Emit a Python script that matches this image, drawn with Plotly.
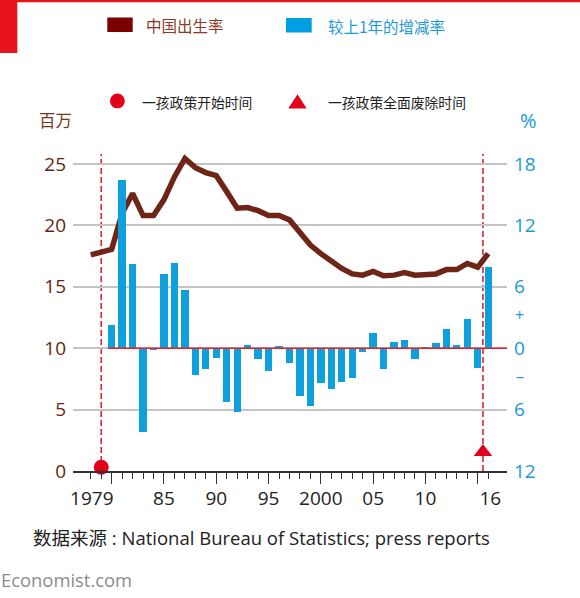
import plotly.graph_objects as go

# ---------------- data ----------------
years = list(range(1978, 2017))
births_m = [17.6, 17.8, 18.05, 21.0, 22.6, 20.8, 20.8, 22.1, 23.95, 25.45,
            24.7, 24.3, 24.05, 22.75, 21.4, 21.45, 21.2, 20.8, 20.8, 20.45,
            19.5, 18.4, 17.7, 17.05, 16.5, 16.05, 15.95, 16.25, 15.9, 15.95,
            16.15, 15.95, 15.95, 16.05, 16.4, 16.4, 16.9, 16.6, 17.7]

bar_years = list(range(1980, 2017))
change_pct = [2.3, 16.4, 8.2, -8.15, -0.1, 7.3, 8.3, 5.7, -2.6, -2.05,
              -1.0, -5.3, -6.25, 0.3, -1.1, -2.2, 0.2, -1.4, -4.7, -5.6,
              -3.4, -3.95, -3.3, -2.9, -0.4, 1.5, -2.0, 0.6, 0.85, -1.05,
              0.05, 0.55, 1.9, 0.3, 2.85, -1.9, 7.95]

policy_start = [1979]
policy_end = [2015.5]

left_ticks = [0, 5, 10, 15, 20, 25]
right_ticks = [-12, -6, 0, 6, 12, 18]
right_ticktext = ["12", "6", "0", "6", "12", "18"]

major_ticks = [1980, 1985, 1990, 1995, 2000, 2005, 2010, 2015]
minor_ticks = [y for y in range(1978, 2017) if y not in major_ticks]
label_pos = [1978.1, 1985, 1990, 1995, 2000, 2005, 2010, 2016.2]
label_text = ["1979", "85", "90", "95", "2000", "05", "10", "16"]

# ---------------- styling ----------------
W, H = 580, 598
L, R, T, B = 73, 507, 150, 471
FONT = "Open Sans, Noto Sans CJK SC, sans-serif"
CJK = "Noto Sans CJK SC, sans-serif"
RED = "#e3001b"
BROWN_LINE = "#6e2416"
BLUE = "#0ea0dc"
BLUE_TXT = "#1a9ad6"

YMAX = (B - T) / 12.28
Y2MIN = -12
Y2MAX = -12 + YMAX * 1.2
XMIN, XMAX = 1976.3, 2017.8


def px(x):
    return (x - L) / (R - L)


def py(y):
    return (B - y) / (B - T)


fig = go.Figure()

fig.add_trace(go.Bar(x=bar_years, y=change_pct, yaxis="y2", xaxis="x",
                     marker=dict(color=BLUE, line=dict(width=0)), width=0.7,
                     showlegend=False))
fig.add_trace(go.Scatter(x=years, y=births_m, mode="lines", xaxis="x", yaxis="y",
                         line=dict(color=BROWN_LINE, width=5.5),
                         showlegend=False))
fig.add_trace(go.Scatter(x=policy_start, y=[0.3], mode="markers", xaxis="x2", yaxis="y",
                         marker=dict(symbol="circle", size=15, color=RED),
                         cliponaxis=False, showlegend=False))
fig.add_trace(go.Scatter(x=policy_end, y=[1.55], mode="markers", xaxis="x2", yaxis="y",
                         marker=dict(symbol="triangle-up", size=16, color=RED),
                         cliponaxis=False, showlegend=False))

shapes = []
# dashed policy lines
for xv in policy_start + policy_end:
    shapes.append(dict(type="line", xref="x", yref="paper", x0=xv, x1=xv,
                       y0=0, y1=py(154), layer="between",
                       line=dict(color="#d8262f", width=1.6, dash="6px,3px")))
# red zero line for percentage axis
shapes.append(dict(type="line", xref="x", yref="y2", x0=bar_years[0] - 0.35, x1=XMAX,
                   y0=0, y1=0, layer="above", line=dict(color="#ee1c25", width=1.6)))
# top red rule and red block
shapes.append(dict(type="rect", xref="paper", yref="paper", x0=px(0), x1=px(W),
                   y0=py(0), y1=py(2.2), line=dict(width=0), fillcolor="#e8141c"))
shapes.append(dict(type="rect", xref="paper", yref="paper", x0=px(0), x1=px(17.3),
                   y0=py(0), y1=py(53), line=dict(width=0), fillcolor="#e8141c"))
# legend swatches
shapes.append(dict(type="rect", xref="paper", yref="paper", x0=px(107.3), x1=px(132.7),
                   y0=py(17.5), y1=py(32), line=dict(width=0), fillcolor="#7b0000"))
shapes.append(dict(type="rect", xref="paper", yref="paper", x0=px(286), x1=px(311.7),
                   y0=py(18), y1=py(32.5), line=dict(width=0), fillcolor="#009fe3"))
shapes.append(dict(type="circle", xref="paper", yref="paper", x0=px(110), x1=px(124.8),
                   y0=py(93.5), y1=py(108.3), line=dict(width=0), fillcolor=RED))
shapes.append(dict(type="path", xref="paper", yref="paper",
                   path="M {} {} L {} {} L {} {} Z".format(px(288.3), py(108.6), px(306.7), py(108.6),
                                                           px(297.5), py(94.3)),
                   line=dict(width=0), fillcolor=RED))


def ann(text, x, y, size, color, xanchor="left", family=FONT):
    return dict(text=text, x=px(x), y=py(y), xref="paper", yref="paper",
                xanchor=xanchor, yanchor="middle", showarrow=False,
                font=dict(size=size, color=color, family=family))


annotations = [
    ann("中国出生率", 143.5, 25, 15.5, "#8b3a2a", family=CJK),
    ann("较上1年的增减率", 326, 25.5, 15.5, BLUE_TXT, family=CJK),
    ann("一孩政策开始时间", 139.5, 101.5, 13.8, "#222222", family=CJK),
    ann("一孩政策全面废除时间", 326, 101.5, 13.8, "#222222", family=CJK),
    ann("百万", 55.8, 120, 16.5, "#7a3522", xanchor="center", family=CJK),
    ann("%", 528.3, 120.5, 20, BLUE_TXT, xanchor="center"),
    ann("+", 519.5, 315, 16, BLUE_TXT, xanchor="center"),
    ann("–", 519.5, 376, 16, BLUE_TXT, xanchor="center"),
    ann("数据来源 : National Bureau of Statistics; press reports", 30.5, 537.5, 18.5, "#222222"),
    ann("Economist.com", -1, 579.5, 18.4, "#8c8c8c"),
]

fig.update_layout(
    width=W, height=H,
    margin=dict(l=L, r=W - R, t=T, b=H - B, pad=0),
    paper_bgcolor="white", plot_bgcolor="white",
    showlegend=False, bargap=0,
    font=dict(family=FONT),
    xaxis=dict(range=[XMIN, XMAX], showgrid=False, zeroline=False,
               showline=True, linecolor="#333333", linewidth=1.5,
               ticks="outside", tickvals=major_ticks, ticklen=11, tickwidth=1.4,
               tickcolor="#333333", showticklabels=False,
               minor=dict(ticks="outside", tickvals=minor_ticks, ticklen=6,
                          tickwidth=1.2, tickcolor="#333333", showgrid=False)),
    xaxis2=dict(range=[XMIN, XMAX], overlaying="x", anchor="y", side="bottom",
                showgrid=False, zeroline=False, showline=False, ticks="",
                tickmode="array", tickvals=label_pos, ticktext=label_text,
                tickfont=dict(size=19, color="#222222", family=FONT),
                ticklabelstandoff=14),
    yaxis=dict(range=[0, YMAX], tickvals=left_ticks, showgrid=True,
               gridcolor="#c4c4c4", gridwidth=2, zeroline=False, showline=False,
               ticks="", tickfont=dict(size=19, color="#6b1e12", family=FONT),
               ticklabelstandoff=6),
    yaxis2=dict(range=[Y2MIN, Y2MAX], overlaying="y", side="right", anchor="x",
                tickvals=right_ticks, ticktext=right_ticktext, showgrid=False,
                zeroline=False, showline=False, ticks="",
                tickfont=dict(size=19, color=BLUE_TXT, family=FONT),
                ticklabelstandoff=6),
    shapes=shapes,
    annotations=annotations,
)

fig.write_html("out.html", config={"displayModeBar": False},
               post_script="document.body.style.margin='0px';document.body.style.padding='0px';")
